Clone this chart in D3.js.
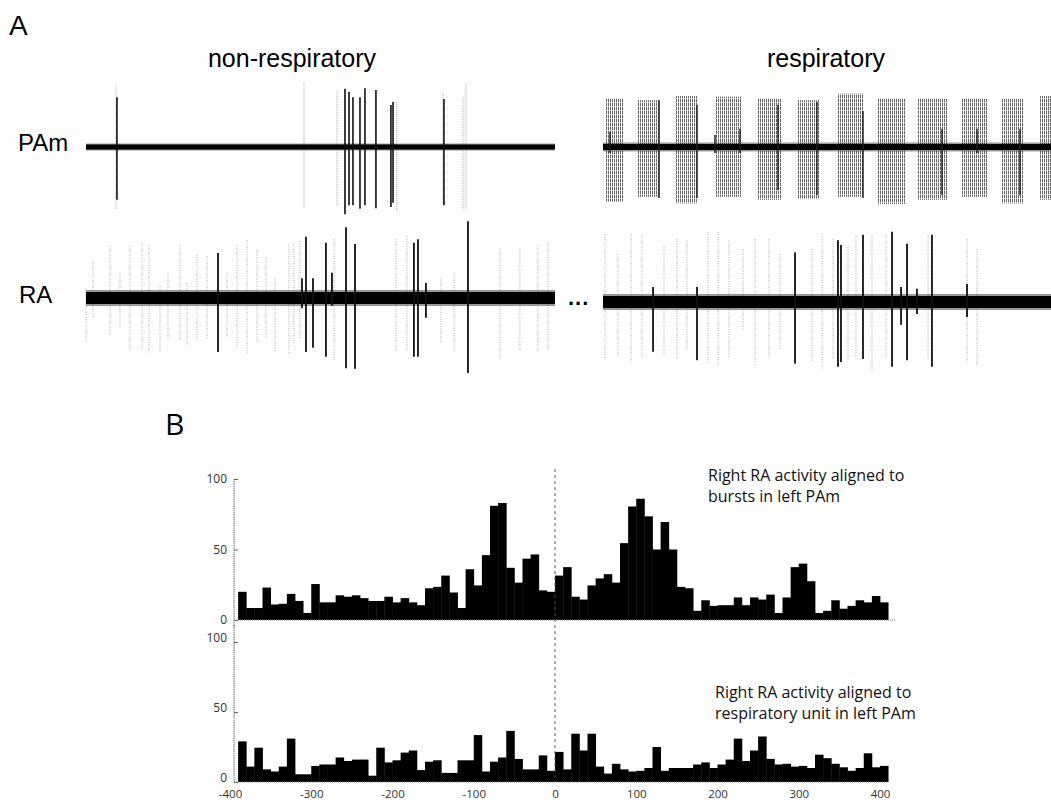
<!DOCTYPE html>
<html>
<head>
<meta charset="utf-8">
<script src="https://cdn.jsdelivr.net/npm/d3@7"></script>
<style>
  body { margin: 0; background: #fff; }
</style>
</head>
<body>
<div id="chart"></div>
<script>
// ---- panel B: peri-event histograms, 10 ms bins (bin start, ms) ----
const binStarts = [
  -390, -380, -370, -360, -350, -340, -330, -320, -310, -300,
  -290, -280, -270, -260, -250, -240, -230, -220, -210, -200,
  -190, -180, -170, -160, -150, -140, -130, -120, -110, -100,
  -90, -80, -70, -60, -50, -40, -30, -20, -10, 0,
  10, 20, 30, 40, 50, 60, 70, 80, 90, 100,
  110, 120, 130, 140, 150, 160, 170, 180, 190, 200,
  210, 220, 230, 240, 250, 260, 270, 280, 290, 300,
  310, 320, 330, 340, 350, 360, 370, 380, 390, 400
];
const binWidth = 10;

// right RA activity aligned to bursts in left PAm
const burstCounts = [
  20, 8.5, 8.5, 23, 11, 11.5, 18.5, 13.5, 5, 25.5,
  12.5, 12.5, 17.5, 16.5, 17.5, 15.5, 13.5, 13.5, 16.5, 12.5,
  15.5, 12.5, 10.5, 22.5, 23.5, 31.5, 19.5, 8.5, 36, 24.5,
  46, 81, 83, 37, 26.5, 43.5, 46.5, 21, 20, 31.5,
  37.5, 16.5, 14.5, 24.5, 29.5, 32.5, 26.5, 54.5, 80.5, 86,
  73.5, 50, 69.5, 50, 23.5, 22.5, 6.5, 14, 10, 10.5,
  10.5, 16, 10.5, 16, 14.5, 18, 5, 16, 37.5, 40,
  27.5, 5, 6.5, 14, 8, 10, 14, 12.5, 17, 12.5
];

// right RA activity aligned to respiratory unit in left PAm
const unitCounts = [
  29, 11, 24.5, 9, 7.5, 11, 31, 5.5, 5.5, 11.5,
  12.5, 12.5, 17.5, 15, 16, 16, 4.5, 24.5, 14, 15.5,
  21, 22.5, 8.5, 14.5, 15.5, 6.5, 6.5, 15.5, 15.5, 33.5,
  7.5, 14.5, 17.5, 36.5, 16.5, 9, 9, 19, 8, 21.5,
  9, 34.5, 22.5, 34.5, 11, 6, 13, 9, 7.5, 8,
  10, 25, 8, 10, 10, 10, 12.5, 14, 10, 12.5,
  16, 31, 15, 22.5, 32.5, 16.5, 12.5, 13, 11, 11.5,
  10, 19.5, 17, 13, 10.5, 8, 10, 20.5, 10.5, 11.5
];

const histTicksX = [-400, -300, -200, -100, 0, 100, 200, 300, 400];
const histTicksY = [0, 50, 100];

// ---- panel A: recorded spikes [time ms, max mV, min mV] ----
// non-respiratory segment
const pamNonUnit = [
  [330, 0.83, -0.88], [2761, 0.97, -1.12], [2804, 0.92, -0.97], [2846, 0.83, -0.97],
  [2921, 0.83, -1.03], [2974, 0.98, -0.97], [3091, 0.95, -1.02], [3251, 0.70, -1.0],
  [3273, 0.75, -0.93], [3816, 0.80, -0.97]
];
const pamNonOther = [
  [320, 1.02, -1.05], [2324, 1.08, -1.02], [2676, 0.92, -0.97], [3315, 0.75, -1.08],
  [3806, 0.90, -0.97], [4019, 0.83, -1.05], [4051, 1.07, -1.05]
];
const raNonUnit = [
  [1407, 0.75, -0.9], [2303, 0.33, -0.17], [2345, 1.02, -0.9], [2420, 0.33, -0.83],
  [2558, 0.92, -0.98], [2622, 0.42, -0.13], [2772, 1.18, -1.17], [2868, 0.9, -1.18],
  [3496, 0.92, -0.98], [3539, 0.98, -0.98], [3624, 0.25, -0.33], [4072, 1.28, -1.25]
];
const raNonOther = [
  [0, 0.17, -0.75], [75, 0.62, -0.33], [256, 0.88, -0.63], [362, 0.42, -0.5],
  [469, 0.88, -0.87], [597, 0.92, -0.87], [672, 0.87, -0.92], [789, 0.2, -0.92],
  [874, 0.42, -0.7], [1002, 0.87, -0.7], [1077, 0.25, -0.8], [1183, 0.72, -0.7],
  [1290, 0.7, -0.7], [1503, 0.42, -0.67], [1610, 0.87, -0.83], [1716, 0.97, -0.95],
  [1823, 0.8, -0.75], [1919, 0.68, -0.67], [2015, 0.33, -0.9], [2164, 0.9, -0.95],
  [2217, 0.9, -0.77], [2281, 0.95, -0.67], [2644, 0.98, -1.03], [3305, 0.98, -0.9],
  [3422, 1.03, -0.87], [3784, 0.33, -0.75], [3923, 0.42, -0.9], [4413, 0.83, -1.02],
  [4626, 0.83, -0.87], [4818, 0.87, -0.9], [4925, 0.92, -0.87]
];

// respiratory segment: PAm bursts [start ms, end ms, max mV, min mV]
const pamRespBursts = [
  [21, 213, 0.81, -0.91], [363, 608, 0.78, -0.83], [779, 1014, 0.85, -0.94],
  [1195, 1483, 0.84, -0.83], [1643, 1910, 0.81, -0.88], [2070, 2315, 0.78, -0.87],
  [2497, 2785, 0.89, -0.83], [2924, 3222, 0.81, -0.95], [3361, 3670, 0.81, -0.88],
  [3830, 4097, 0.81, -0.83], [4247, 4481, 0.8, -0.94], [4663, 4780, 0.85, -0.88]
];
const pamRespUnit = [
  [75, 0.25, -0.1], [598, 0.78, -0.85], [1003, 0.7, -0.85], [1195, 0.2, -0.1],
  [1462, 0.3, -0.1], [1867, 0.7, -0.72], [2283, 0.75, -0.8], [2774, 0.6, -0.85],
  [3617, 0.3, -0.8], [3991, 0.3, -0.1], [4449, 0.3, -0.8]
];
const raRespUnit = [
  [534, 0.25, -0.83], [1003, 0.25, -0.97], [2049, 0.83, -1.03], [2507, 1.03, -1.08],
  [2539, 0.95, -1.0], [2774, 1.12, -0.95], [3084, 1.17, -1.08], [3180, 0.25, -0.38],
  [3244, 0.97, -0.97], [3350, 0.22, -0.2], [3510, 1.12, -1.08], [3884, 0.3, -0.25]
];
const raRespOther = [
  [21, 1.13, -0.95], [160, 0.8, -0.92], [299, 1.13, -1.0], [416, 1.12, -0.95],
  [651, 0.92, -0.92], [790, 1.05, -0.95], [896, 1.03, -0.78], [1120, 1.17, -1.03],
  [1227, 1.17, -1.05], [1344, 1.03, -0.92], [1494, 0.88, -0.47], [1622, 1.05, -1.05],
  [1771, 1.05, -0.92], [1889, 0.8, -0.8], [2230, 0.88, -1.0], [2337, 1.13, -1.12],
  [2454, 1.05, -0.95], [2614, 0.92, -0.97], [2699, 1.12, -0.92], [2870, 1.12, -1.17],
  [3020, 1.12, -0.95], [3468, 1.12, -0.95], [3884, 1.05, -1.0], [3991, 0.88, -1.05]
];

const W = 1051, H = 802;
const fontA = '"Liberation Sans", Arial, sans-serif';
const fontB = '"Open Sans", "Noto Sans", sans-serif';

const svg = d3.select('#chart').append('svg')
  .attr('width', W)
  .attr('height', H);

svg.append('defs').append('pattern')
  .attr('id', 'burstHatch')
  .attr('patternUnits', 'userSpaceOnUse')
  .attr('width', 2)
  .attr('height', 4)
  .append('rect')
  .attr('width', 1)
  .attr('height', 3.4)
  .attr('fill', '#666');

// ================= panel A =================
const tNon = d3.scaleLinear().domain([0, 5000]).range([86, 555]);
const tResp = d3.scaleLinear().domain([0, 4780]).range([603, 1051]);
const amp = d3.scaleLinear().domain([-1, 1]).range([60, -60]);

function drawSpikes(g, t, spikes, color, width, dash) {
  g.selectAll(null)
    .data(spikes)
    .enter()
    .append('line')
    .attr('x1', d => t(d[0]))
    .attr('x2', d => t(d[0]))
    .attr('y1', d => amp(d[1]))
    .attr('y2', d => amp(d[2]))
    .attr('stroke', color)
    .attr('stroke-width', width)
    .attr('stroke-dasharray', dash);
}

function drawBaseline(g, t, thick, halo) {
  let [t0, t1] = t.domain();
  // soft edge of the noise band
  g.append('line')
    .attr('x1', t(t0)).attr('x2', t(t1))
    .attr('y1', amp(0)).attr('y2', amp(0))
    .attr('stroke', '#000')
    .attr('stroke-opacity', 0.4)
    .attr('stroke-width', halo);
  g.append('line')
    .attr('x1', t(t0)).attr('x2', t(t1))
    .attr('y1', amp(0)).attr('y2', amp(0))
    .attr('stroke', '#000')
    .attr('stroke-width', thick);
}

// PAm, non-respiratory
let g = svg.append('g').attr('transform', 'translate(0,147)');
drawSpikes(g, tNon, pamNonOther, '#a8a8a8', 1, '1,1');
drawBaseline(g, tNon, 5, 7);
drawSpikes(g, tNon, pamNonUnit, '#111', 1.6, null);

// PAm, respiratory
g = svg.append('g').attr('transform', 'translate(0,147)');
g.selectAll(null)
  .data(pamRespBursts)
  .enter()
  .append('rect')
  .attr('x', d => tResp(d[0]))
  .attr('width', d => tResp(d[1]) - tResp(d[0]))
  .attr('y', d => amp(d[2]))
  .attr('height', d => amp(d[3]) - amp(d[2]))
  .attr('fill', 'url(#burstHatch)');
drawBaseline(g, tResp, 6, 9);
drawSpikes(g, tResp, pamRespUnit, '#222', 1.5, null);

// RA, non-respiratory
g = svg.append('g').attr('transform', 'translate(0,298)');
drawSpikes(g, tNon, raNonOther, '#a8a8a8', 1, '1,1.4');
drawBaseline(g, tNon, 12, 16);
drawSpikes(g, tNon, raNonUnit, '#111', 1.8, null);

// RA, respiratory
g = svg.append('g').attr('transform', 'translate(0,302)');
drawSpikes(g, tResp, raRespOther, '#a8a8a8', 1, '1,1.4');
drawBaseline(g, tResp, 12, 16);
drawSpikes(g, tResp, raRespUnit, '#111', 1.8, null);

// labels A
svg.append('text').attr('x', 9).attr('y', 35)
  .style('font-family', fontA).style('font-size', '28px').text('A');
svg.append('text').attr('x', 292).attr('y', 67).attr('text-anchor', 'middle')
  .style('font-family', fontA).style('font-size', '25px').text('non-respiratory');
svg.append('text').attr('x', 826).attr('y', 67).attr('text-anchor', 'middle')
  .style('font-family', fontA).style('font-size', '25px').text('respiratory');
svg.append('text').attr('x', 18).attr('y', 151)
  .style('font-family', fontA).style('font-size', '24px').text('PAm');
svg.append('text').attr('x', 19).attr('y', 303)
  .style('font-family', fontA).style('font-size', '24px').text('RA');
svg.append('text').attr('x', 568).attr('y', 305)
  .style('font-family', fontA).style('font-size', '22px').style('font-weight', 'bold')
  .style('letter-spacing', '1px').text('...');

// ================= panel B =================
const xH = d3.scaleLinear().domain([-400, 400]).range([230, 880]);
const yTop = d3.scaleLinear().domain([0, 100]).range([620, 479]);
const yBot = d3.scaleLinear().domain([0, 100]).range([782, 642]);
const axisX = xH(-395);

function drawHist(y, counts) {
  let hg = svg.append('g');
  hg.selectAll('rect')
    .data(binStarts)
    .enter()
    .append('rect')
    .attr('x', d => xH(d))
    .attr('width', d => xH(d + binWidth) - xH(d) + 0.4)
    .attr('y', (d, i) => y(counts[i]))
    .attr('height', (d, i) => y(0) - y(counts[i]))
    .attr('fill', '#000');
  return hg;
}

drawHist(yTop, burstCounts);
drawHist(yBot, unitCounts);

// baselines
svg.append('line')
  .attr('x1', axisX).attr('x2', xH(420))
  .attr('y1', yTop(0)).attr('y2', yTop(0))
  .attr('stroke', '#777').attr('stroke-width', 1).attr('stroke-dasharray', '1,1');
svg.append('line')
  .attr('x1', axisX).attr('x2', xH(410))
  .attr('y1', yBot(0)).attr('y2', yBot(0))
  .attr('stroke', '#777').attr('stroke-width', 1).attr('stroke-dasharray', '1,1');

// y axes
function drawYAxis(y, lo, hi, dy) {
  let ag = svg.append('g')
    .attr('transform', 'translate(' + axisX + ',0)')
    .call(d3.axisLeft(y).tickValues(histTicksY).tickSizeInner(-4).tickSizeOuter(0).tickPadding(7));
  ag.select('.domain').remove();
  ag.selectAll('.tick line').attr('stroke', '#666');
  ag.selectAll('.tick text')
    .attr('dy', dy)
    .style('font-family', fontB).style('font-size', '12px').attr('fill', '#333');
  ag.append('line')
    .attr('y1', y(hi)).attr('y2', y(lo))
    .attr('stroke', '#666').attr('stroke-width', 1).attr('stroke-dasharray', '1.5,0.7');
}
drawYAxis(yTop, -5, 100, '0.32em');
drawYAxis(yBot, 0, 112, '-0.05em');

// x axis labels
let xg = svg.append('g')
  .attr('transform', 'translate(0,' + yBot(0) + ')')
  .call(d3.axisBottom(xH).tickValues(histTicksX).tickSize(0).tickPadding(8).tickFormat(d => String(d)));
xg.select('.domain').remove();
xg.selectAll('.tick text')
  .style('font-family', fontB).style('font-size', '11.5px').attr('fill', '#333');

// zero line
svg.append('line')
  .attr('x1', xH(0)).attr('x2', xH(0))
  .attr('y1', yTop(107)).attr('y2', yBot(0))
  .attr('stroke', '#555').attr('stroke-width', 1).attr('stroke-dasharray', '3,3');

// labels B
svg.append('text').attr('x', 165).attr('y', 435)
  .style('font-family', fontB).style('font-size', '30px').text('B');

function note(x, y, lines) {
  let t = svg.append('text')
    .attr('x', x).attr('y', y)
    .style('font-family', fontB).style('font-size', '16px').attr('fill', '#111');
  lines.forEach((s, i) => {
    t.append('tspan').attr('x', x).attr('dy', i ? 21 : 0).text(s);
  });
}
note(708, 481, ['Right RA activity aligned to', 'bursts in left PAm']);
note(715, 698, ['Right RA activity aligned to', 'respiratory unit in left PAm']);
</script>
</body>
</html>
